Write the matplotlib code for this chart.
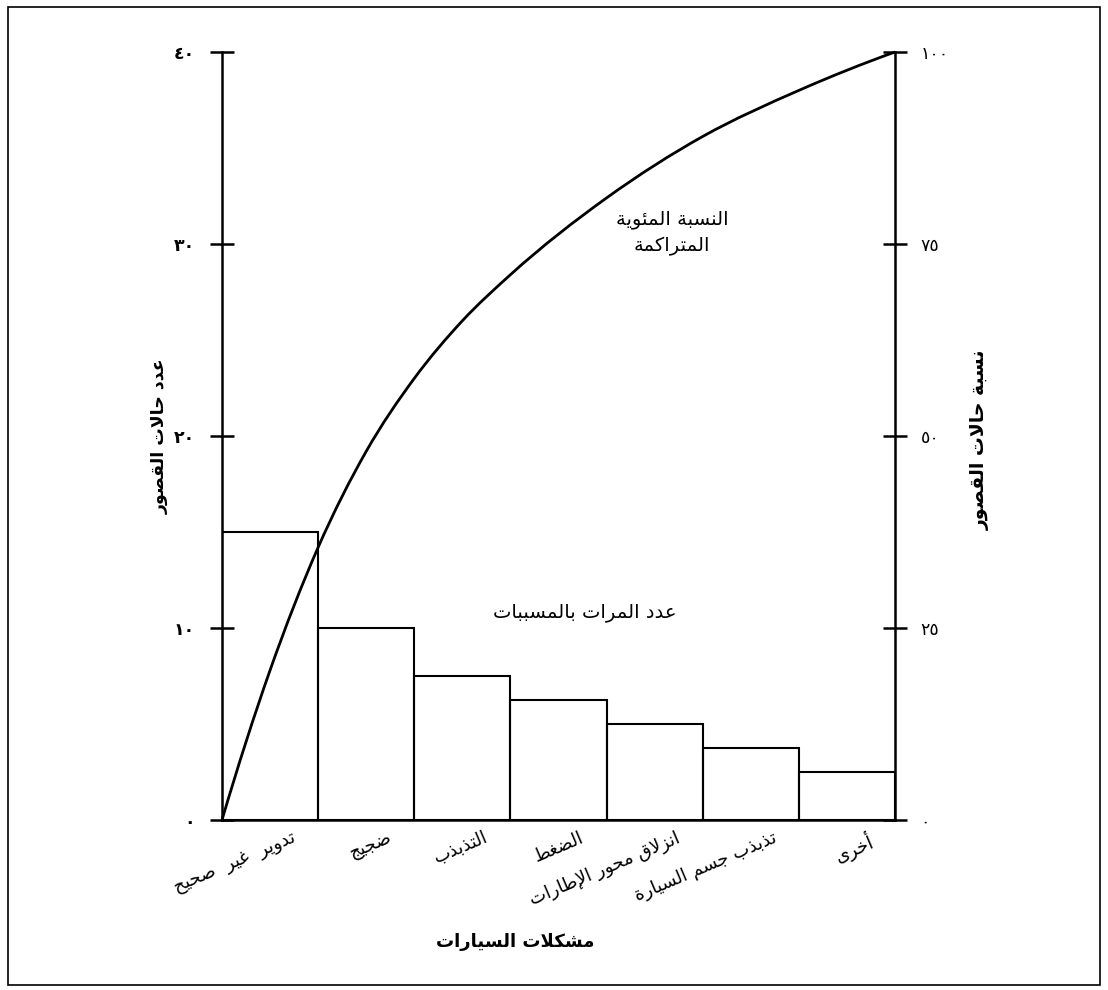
import matplotlib
matplotlib.use("Agg")
import matplotlib.pyplot as plt
from matplotlib.path import Path
from matplotlib.patches import PathPatch, Rectangle
import numpy as np

# ---------------- data ----------------
categories = ["تدوير  غير  صحيح", "ضجيج", "التذبذب", "الضغط",
              "انزلاق محور الإطارات", "تذبذب جسم السيارة", "أخرى"]
counts = [15, 10, 7.5, 6.25, 5, 3.75, 2.5]
left_ticks = [0, 10, 20, 30, 40]
right_ticks = [0, 25, 50, 75, 100]
# cumulative-percentage curve (x in bar units)
curve_x = [0, 0.5, 1, 1.5, 2, 2.5, 3, 4, 5, 6, 7]
curve_pct = [0, 19.5, 35.5, 48, 57.5, 65, 71, 81, 89, 95, 100]

xlabel_text = "مشكلات السيارات"
ylabel_left = "عدد حالات القصور"
ylabel_right = "نسبة حالات القصور"
curve_label = "النسبة المئوية\nالمتراكمة"
bar_label = "عدد المرات بالمسببات"

# ---------------- minimal Arabic shaping ----------------
FORMS = {}
for ch, b in [("آ", 0xFE81), ("أ", 0xFE83), ("ؤ", 0xFE85), ("إ", 0xFE87),
              ("ا", 0xFE8D), ("ة", 0xFE93), ("د", 0xFEA9), ("ذ", 0xFEAB),
              ("ر", 0xFEAD), ("ز", 0xFEAF), ("و", 0xFEED), ("ى", 0xFEEF)]:
    FORMS[ch] = (b, b + 1)
for ch, b in [("ئ", 0xFE89), ("ب", 0xFE8F), ("ت", 0xFE95), ("ث", 0xFE99),
              ("ج", 0xFE9D), ("ح", 0xFEA1), ("خ", 0xFEA5), ("س", 0xFEB1),
              ("ش", 0xFEB5), ("ص", 0xFEB9), ("ض", 0xFEBD), ("ط", 0xFEC1),
              ("ظ", 0xFEC5), ("ع", 0xFEC9), ("غ", 0xFECD), ("ف", 0xFED1),
              ("ق", 0xFED5), ("ك", 0xFED9), ("ل", 0xFEDD), ("م", 0xFEE1),
              ("ن", 0xFEE5), ("ه", 0xFEE9), ("ي", 0xFEF1)]:
    FORMS[ch] = (b, b + 1, b + 2, b + 3)
LAMALEF = {"آ": 0xFEF5, "أ": 0xFEF7, "إ": 0xFEF9, "ا": 0xFEFB}


def shape_line(text):
    out = []
    n = len(text)
    i = 0
    prev_joins = False
    while i < n:
        c = text[i]
        if c == "ل" and i + 1 < n and text[i + 1] in LAMALEF:
            base = LAMALEF[text[i + 1]]
            out.append(chr(base + (1 if prev_joins else 0)))
            prev_joins = False
            i += 2
            continue
        if c in FORMS:
            forms = FORMS[c]
            nxt = text[i + 1] if i + 1 < n else None
            next_joins = len(forms) == 4 and nxt is not None and nxt in FORMS
            if prev_joins and next_joins:
                f = forms[3]
            elif prev_joins:
                f = forms[1]
            elif next_joins:
                f = forms[2]
            else:
                f = forms[0]
            out.append(chr(f))
            prev_joins = next_joins
        else:
            out.append(c)
            prev_joins = False
        i += 1
    return "".join(reversed(out))


def ar(text):
    return "\n".join(shape_line(t) for t in text.split("\n"))


def arabic_digits(v):
    return "".join(chr(0x0660 + int(d)) for d in str(v))


# ---------------- figure ----------------
plt.rcParams["font.family"] = ["DejaVu Sans"]
fig = plt.figure(figsize=(11.08, 9.9), dpi=100)
W, H = 1108, 990
ax_l, ax_r, ax_t, ax_b = 222, 895, 52, 820
ax = fig.add_axes([ax_l / W, 1 - ax_b / H, (ax_r - ax_l) / W, (ax_b - ax_t) / H])
ax2 = ax.twinx()

x = np.arange(len(counts))
ax.bar(x + 0.5, counts, width=1.0, fill=False, edgecolor="black", linewidth=1.5, zorder=2)
ax.set_xlim(0, len(counts))
ax.set_ylim(0, 40)
ax2.set_ylim(0, 100)
ax.set_xticks([])

for s in ["top", "right"]:
    ax.spines[s].set_visible(False)
for s in ["top", "left", "bottom"]:
    ax2.spines[s].set_visible(False)
for s in ["left", "bottom"]:
    ax.spines[s].set_linewidth(1.8)
ax2.spines["right"].set_linewidth(1.8)

ax.set_yticks(left_ticks)
ax.set_yticklabels([arabic_digits(v) for v in left_ticks], fontsize=12.5, fontweight="bold")
ax.tick_params(axis="y", direction="inout", length=17, width=1.8, pad=11)
ax2.set_yticks(right_ticks)
ax2.set_yticklabels([arabic_digits(v) for v in right_ticks], fontsize=12.5)
ax2.tick_params(axis="y", direction="inout", length=17, width=1.8, pad=10)

# smooth curve (monotone cubic Hermite -> Bezier, drawn by matplotlib)
cx = np.array(curve_x, float)
cy = np.array(curve_pct, float)
h = np.diff(cx)
d = np.diff(cy) / h
m = np.zeros_like(cy)
m[0] = d[0] + (d[0] - d[1]) / 2
m[-1] = d[-1] - (d[-2] - d[-1]) / 2
for k in range(1, len(cy) - 1):
    m[k] = (h[k - 1] * d[k] + h[k] * d[k - 1]) / (h[k - 1] + h[k])
verts = [(cx[0], cy[0])]
codes = [Path.MOVETO]
for k in range(len(h)):
    verts += [(cx[k] + h[k] / 3, cy[k] + m[k] * h[k] / 3),
              (cx[k + 1] - h[k] / 3, cy[k + 1] - m[k + 1] * h[k] / 3),
              (cx[k + 1], cy[k + 1])]
    codes += [Path.CURVE4] * 3
ax2.add_patch(PathPatch(Path(verts, codes), facecolor="none", edgecolor="black",
                        linewidth=2.0, zorder=3, clip_on=False))

# category labels
for i, lab in enumerate(categories):
    ax.text(i + 0.5 + 0.22, -0.011, ar(lab), transform=ax.get_xaxis_transform(),
            rotation=23, rotation_mode="anchor", ha="right", va="top", fontsize=13)

# annotations
ax.text(4.68, 30.57, ar(curve_label), ha="center", va="center",
        multialignment="center", fontsize=14, linespacing=1.45)
ax.text(3.77, 10.8, ar(bar_label), ha="center", va="center", fontsize=14)

# axis titles
ax.text((515 - ax_l) / (ax_r - ax_l), (ax_b - 942) / (ax_b - ax_t), ar(xlabel_text),
        transform=ax.transAxes, ha="center", va="center", fontsize=13, fontweight="bold")
ax.text((160 - ax_l) / (ax_r - ax_l), 0.5, ar(ylabel_left), transform=ax.transAxes,
        rotation=90, ha="center", va="center", fontsize=12.5, fontweight="bold")
ax.text((980 - ax_l) / (ax_r - ax_l), 0.495, ar(ylabel_right), transform=ax.transAxes,
        rotation=90, ha="center", va="center", fontsize=13.5, fontweight="bold")

# outer frame
fig.add_artist(Rectangle((8 / W, 5 / H), 1092 / W, 978 / H, transform=fig.transFigure,
                         fill=False, edgecolor="black", linewidth=1.2))

fig.savefig("out.png", dpi=100, facecolor="white")
